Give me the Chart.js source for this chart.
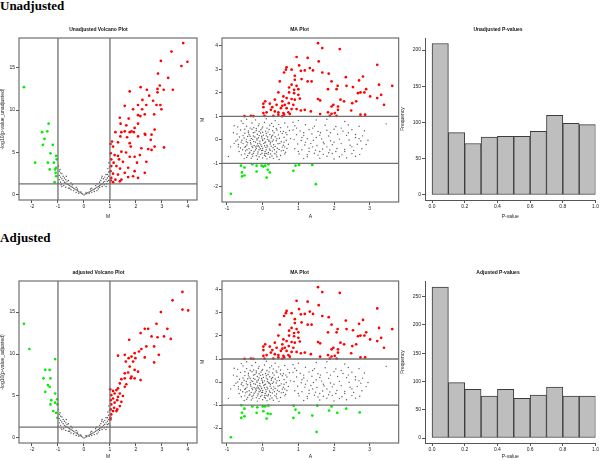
<!DOCTYPE html>
<html>
<head>
<meta charset="utf-8">
<script src="https://cdn.jsdelivr.net/npm/chart.js@4/dist/chart.umd.min.js"></script>
<style>
  body { margin: 0; background: #fff; width: 600px; height: 461px; position: relative; overflow: hidden; }
  .row-title { position: absolute; left: 0; font: bold 13px "Liberation Serif", "Times New Roman", serif; line-height: 13px; color: #000; }
  canvas { position: absolute; }
</style>
</head>
<body>
<div class="row-title" style="top:-1px">Unadjusted</div>
<div class="row-title" style="top:231px">Adjusted</div>
<canvas id="volTop" width="200" height="200" style="left:0;top:20px"></canvas>
<canvas id="maTop" width="200" height="200" style="left:200px;top:20px"></canvas>
<canvas id="histTop" width="200" height="200" style="left:400px;top:20px"></canvas>
<canvas id="volBot" width="200" height="210" style="left:0;top:250px"></canvas>
<canvas id="maBot" width="200" height="210" style="left:200px;top:250px"></canvas>
<canvas id="histBot" width="200" height="210" style="left:400px;top:250px"></canvas>
<script>
// ---- data ----
// volcano plots: [M, -log10(p)]
const volcanoUnadjRed = [
  [3.82,17.9],[3.37,16.9],[2.96,15.8],[3.98,15.7],[3.75,15.2],[2.85,14.3],[3.24,13.8],[2.18,12.7],
  [1.76,12.2],[2.42,12.4],[2.83,12.5],[2.92,12.9],[3.07,12.4],[3.42,12.4],[2.83,12.1],[2.51,11.7],
  [2.25,11.2],[2.66,11.1],[2.08,10.6],[2.40,10.6],[2.79,10.6],[2.94,10.6],[1.57,10.5],[1.89,10.1],
  [2.24,10.1],[2.98,10.1],[2.70,9.5],[2.08,9.4],[2.17,9.3],[1.38,9.1],[1.72,9.0],[2.34,9.5],
  [1.63,8.2],[1.95,7.9],[1.41,8.4],[2.08,8.4],[1.83,7.5],[1.76,7.4],[1.57,7.5],[1.44,7.4],
  [1.21,7.4],[1.92,7.4],[2.34,7.2],[2.60,7.1],[1.40,6.9],[2.08,6.9],[1.66,6.8],[2.36,7.1],
  [1.08,6.3],[1.31,6.2],[1.76,6.1],[2.21,5.5],[2.60,5.3],[2.72,5.7],[3.08,5.6],[2.47,5.4],
  [1.02,6.0],[1.12,5.7],[1.44,5.1],[1.62,5.0],[1.03,4.9],[1.18,4.7],[1.31,4.6],[1.95,4.5],
  [2.15,4.7],[1.76,4.5],[1.05,4.2],[1.14,3.8],[1.35,4.2],[1.50,3.9],[2.04,3.8],[2.40,3.9],
  [1.05,3.4],[1.25,3.4],[1.39,3.1],[1.70,3.2],[1.95,2.8],[1.02,2.8],[1.12,2.5],[1.31,2.4],
  [1.70,2.1],[1.89,2.2],[1.05,2.0],[1.21,1.8],[1.38,1.6],[1.12,1.5],[1.03,1.7],[2.08,2.0],
  [2.34,2.6],[1.57,2.6],[1.44,1.8],[1.80,5.7],[2.57,6.5],[2.72,7.7]
];
const volcanoUnadjGreen = [
  [-2.31,12.7],[-1.36,8.4],[-1.61,7.4],[-1.41,7.5],[-1.52,6.6],[-1.20,5.9],[-1.58,5.9],[-1.29,4.9],
  [-1.07,4.6],[-1.88,3.8],[-1.39,3.8],[-1.16,3.8],[-1.07,3.2],[-1.11,3.0],[-1.32,3.0],[-1.07,2.2],
  [-1.13,1.5],[-1.09,2.6],[-1.05,4.2]
];
const volcanoAdjRed = [
  [3.79,17.4],[3.41,16.4],[2.96,15.0],[3.79,15.3],[4.01,15.2],[2.34,13.0],[2.47,13.0],[2.79,13.6],
  [3.21,13.0],[2.18,12.5],[2.60,12.1],[3.08,12.1],[3.34,11.8],[2.83,12.0],[1.74,11.7],[2.70,10.9],
  [2.40,10.9],[2.21,10.6],[2.12,10.3],[1.95,10.1],[1.31,9.8],[1.57,9.9],[2.88,9.9],[1.83,9.7],
  [1.72,9.5],[1.98,9.5],[2.70,9.0],[2.34,9.6],[1.89,9.1],[1.61,9.1],[1.76,8.5],[1.95,8.1],
  [2.08,7.9],[1.57,7.7],[1.70,7.8],[1.83,7.3],[1.80,7.1],[1.57,7.1],[1.44,7.0],[1.95,7.1],
  [2.18,6.9],[1.38,6.5],[1.63,6.4],[1.57,6.1],[1.31,5.9],[1.01,5.8],[1.12,5.6],[1.25,5.7],
  [1.18,5.3],[1.38,5.3],[1.05,5.1],[1.50,5.0],[1.31,4.9],[1.12,4.7],[1.03,4.5],[1.28,4.5],
  [1.44,4.3],[1.18,4.2],[1.05,4.0],[1.38,3.8],[1.16,3.6],[1.28,3.4],[1.03,3.4],[1.12,3.2],
  [1.25,3.2],[1.05,2.8],[1.02,2.4],[1.02,2.2]
];
const volcanoAdjGreen = [
  [-2.31,13.6],[-2.10,10.6],[-1.11,9.4],[-1.49,8.1],[-1.32,8.1],[-1.56,7.1],[-1.29,7.1],[-1.39,6.3],
  [-1.32,6.1],[-1.49,5.5],[-1.11,5.3],[-1.26,4.5],[-1.03,4.6],[-1.11,4.2],[-1.29,4.0],[-1.02,4.0],
  [-1.18,3.2],[-1.07,3.0],[-1.02,2.4]
];
const volcanoGrey = [
  [0,0],[0.05,0.1],[-0.05,0.1],[0.1,0.15],[-0.1,0.2],[0.15,0.25],[-0.15,0.3],[0.2,0.35],[-0.2,0.4],
  [0.25,0.45],[-0.25,0.5],[0.3,0.5],[-0.3,0.6],[0.35,0.6],[-0.35,0.7],[0.4,0.7],[-0.4,0.8],[0.45,0.8],
  [-0.45,0.9],[0.5,0.9],[-0.5,1.0],[0.55,1.0],[-0.55,1.1],[0.6,1.1],[-0.6,1.2],[0.65,1.2],[-0.65,1.3],
  [0.7,1.3],[-0.7,1.4],[0.75,1.5],[-0.75,1.5],[0.8,1.6],[-0.8,1.7],[0.85,1.8],[-0.85,1.9],[0.9,2.0],
  [-0.9,2.1],[0.95,2.2],[-0.95,2.3],[-0.12,0.35],[0.08,0.3],[-0.3,0.3],[0.3,0.8],[-0.5,1.4],[0.5,1.3],
  [-0.6,0.8],[0.6,1.5],[-0.7,1.8],[0.7,1.0],[-0.8,2.2],[0.8,2.1],[-0.9,1.5],[0.9,1.6],[-0.95,2.8],
  [0.95,2.7],[-0.85,2.5],[0.85,2.4],[-0.75,2.0],[0.75,1.9],[-0.65,1.6],[0.65,1.7],[-0.55,0.8],
  [0.55,0.7],[-0.4,0.5],[0.4,0.4],[-0.2,0.2],[0.2,0.2],[-0.98,3.4],[0.98,3.3],[-1.0,1.4],[1.0,1.4],
  [-0.92,3.0],[0.92,3.1],[0.96,3.8],[-0.45,1.2],[0.45,1.1],[-0.25,0.7],[0.25,0.7],[-0.68,2.2],
  [0.68,2.0],[-0.88,1.2],[0.88,1.3],[-0.78,1.1],[0.78,1.2],[-0.3,0.9],[0.3,0.3],[-0.5,0.6],[0.5,0.5],
  [-0.7,0.9],[0.7,2.2],[-0.6,1.7],[0.6,0.9],[-0.85,1.0],[0.85,1.0],[-0.95,1.8],[0.95,1.7],[-0.9,2.6],
  [0.9,2.4]
];

// MA plots: [A, M]
const maRed = [
  [1.55,4.12],[1.67,3.91],[2.16,3.87],[0.95,3.53],[1.26,3.49],[1.57,3.34],[3.21,3.20],[1.02,3.17],
  [0.67,3.09],[1.32,3.06],[0.81,2.99],[0.65,2.99],[1.67,2.87],[1.85,2.82],[1.41,2.96],[1.07,2.94],
  [1.18,2.96],[0.60,2.87],[0.90,2.73],[0.48,2.49],[1.26,2.49],[1.37,2.49],[1.93,2.49],[2.33,2.67],
  [2.70,2.53],[2.81,2.70],[0.90,2.56],[1.09,2.59],[0.81,2.35],[0.95,2.30],[0.74,2.23],[0.88,2.13],
  [1.00,2.16],[1.83,2.16],[2.07,2.16],[2.10,2.30],[2.35,2.30],[2.53,2.25],[2.90,2.16],[3.26,2.35],
  [0.44,2.02],[0.74,2.02],[0.88,1.99],[1.00,1.92],[2.67,1.99],[2.74,2.02],[2.85,2.02],[3.32,1.92],
  [3.01,1.85],[3.21,1.78],[3.63,2.30],[0.58,1.85],[0.67,1.78],[0.81,1.74],[0.90,1.71],[1.04,1.76],
  [0.34,1.71],[1.55,1.74],[1.61,1.68],[2.18,1.71],[2.28,1.64],[2.51,1.56],[2.62,1.64],[3.40,1.49],
  [0.07,1.64],[0.02,1.54],[0.20,1.54],[0.39,1.49],[0.55,1.45],[0.62,1.49],[0.73,1.56],[0.86,1.49],
  [1.93,1.42],[1.98,1.49],[2.11,1.42],[0.55,1.64],[0.02,1.39],[0.27,1.39],[0.51,1.35],[0.67,1.35],
  [0.81,1.31],[0.95,1.31],[1.07,1.25],[1.18,1.28],[1.35,1.21],[2.11,1.28],[2.48,1.25],[0.23,1.28],
  [0.34,1.21],[0.44,1.17],[0.58,1.14],[0.72,1.17],[0.11,1.17],[0.02,1.14],[1.83,1.17],[1.93,1.11],
  [2.02,1.14],[1.61,1.10],[0.44,1.07],[0.60,1.07],[0.76,1.10],[-0.51,1.01],[-0.33,1.02],[-0.26,1.01],
  [0.05,1.02],[0.30,1.02],[0.55,1.01],[2.74,1.07],[2.87,1.07],[1.88,1.02],[2.07,1.02]
];
const maUnadjGreen = [
  [-0.89,-2.30],[-0.61,-1.10],[-0.51,-1.18],[-0.58,-1.39],[-0.58,-1.56],[-0.51,-1.52],[-0.29,-1.04],
  [-0.17,-1.10],[-0.17,-1.35],[-0.03,-1.10],[0.02,-1.14],[0.07,-1.10],[0.16,-1.04],[0.14,-1.28],
  [0.20,-1.39],[0.11,-1.61],[0.92,-1.10],[1.02,-1.07],[1.39,-1.07],[0.86,-1.32],[1.49,-1.89]
];
const maAdjGreen = [
  [-0.89,-2.40],[-0.60,-1.01],[-0.51,-1.16],[-0.58,-1.34],[-0.60,-1.56],[-0.51,-1.49],[-0.29,-1.06],
  [-0.15,-1.10],[-0.17,-1.34],[0.00,-1.06],[0.02,-1.27],[0.07,-1.06],[0.16,-1.03],[0.14,-1.37],
  [0.22,-1.39],[0.11,-1.59],[0.87,-1.03],[0.92,-1.20],[1.02,-1.34],[0.86,-1.56],[1.39,-1.46],
  [1.53,-1.03],[1.51,-2.17],[1.86,-1.24],[1.93,-1.06],[2.09,-1.34],[2.34,-1.16],[2.72,-1.32]
];
const maGrey = [
  [-0.45,0.88],[-0.2,0.85],[0.1,0.9],[0.35,0.82],[-0.6,0.8],
  [-0.55,0.7],[-0.3,0.72],[-0.1,0.68],[0.05,0.74],[0.25,0.7],[0.45,0.66],[0.62,0.72],
  [-0.7,0.55],[-0.45,0.58],[-0.25,0.52],[-0.12,0.6],[0.0,0.55],[0.12,0.5],[0.3,0.57],[0.5,0.52],[0.7,0.55],
  [-0.62,0.42],[-0.4,0.38],[-0.3,0.45],[-0.18,0.4],[-0.05,0.43],[0.08,0.37],[0.18,0.44],[0.28,0.39],
  [0.4,0.42],[0.58,0.36],[0.75,0.4],
  [-0.72,0.25],[-0.5,0.28],[-0.38,0.22],[-0.26,0.3],[-0.15,0.24],[-0.06,0.29],[0.02,0.2],[0.1,0.27],
  [0.2,0.23],[0.32,0.3],[0.44,0.21],[0.55,0.27],[0.68,0.22],
  [-0.65,0.12],[-0.52,0.08],[-0.42,0.14],[-0.32,0.06],[-0.22,0.12],[-0.12,0.09],[-0.03,0.15],[0.05,0.05],
  [0.14,0.12],[0.24,0.08],[0.35,0.13],[0.47,0.07],[0.6,0.11],[0.78,0.05],
  [-0.75,-0.05],[-0.58,-0.02],[-0.46,-0.08],[-0.35,-0.03],[-0.25,-0.07],[-0.16,-0.01],[-0.08,-0.06],
  [0.0,-0.03],[0.08,-0.09],[0.17,-0.02],[0.27,-0.06],[0.38,-0.04],[0.52,-0.08],[0.66,-0.02],
  [-0.68,-0.2],[-0.55,-0.16],[-0.44,-0.22],[-0.33,-0.18],[-0.24,-0.24],[-0.14,-0.17],[-0.05,-0.21],
  [0.03,-0.15],[0.12,-0.23],[0.21,-0.18],[0.31,-0.21],[0.43,-0.17],[0.58,-0.23],[0.72,-0.19],
  [-0.62,-0.35],[-0.5,-0.32],[-0.38,-0.38],[-0.28,-0.33],[-0.18,-0.36],[-0.09,-0.31],[0.0,-0.37],
  [0.09,-0.33],[0.19,-0.39],[0.29,-0.34],[0.41,-0.36],[0.55,-0.31],[0.68,-0.37],
  [-0.66,-0.5],[-0.48,-0.47],[-0.36,-0.53],[-0.24,-0.49],[-0.13,-0.52],[-0.03,-0.46],[0.07,-0.5],
  [0.16,-0.54],[0.27,-0.48],[0.39,-0.52],[0.52,-0.47],[0.64,-0.53],
  [-0.6,-0.64],[-0.42,-0.67],[-0.3,-0.62],[-0.18,-0.68],[-0.06,-0.63],[0.05,-0.66],[0.15,-0.61],
  [0.26,-0.69],[0.38,-0.64],[0.5,-0.67],[0.62,-0.6],
  [-0.52,-0.8],[-0.32,-0.78],[-0.15,-0.83],[0.0,-0.77],[0.12,-0.81],[0.3,-0.79],[0.46,-0.84],
  [-0.96,-0.71],[-0.9,-0.3],[0.85,0.75],[-0.8,0.6],
  [-0.35,0.15],[-0.28,0.02],[-0.2,-0.1],[-0.1,0.18],[-0.02,0.08],[0.06,-0.12],[0.13,0.02],[0.22,-0.1],
  [0.3,0.0],[-0.42,-0.12],[-0.3,-0.27],[-0.2,-0.3],[-0.12,-0.26],[-0.03,-0.28],[0.05,-0.25],[0.14,-0.3],
  [0.24,-0.27],[0.35,-0.28],[-0.48,-0.28],[-0.56,-0.42],[-0.44,-0.42],[-0.32,-0.45],[-0.2,-0.43],
  [-0.1,-0.42],[0.0,-0.45],[0.1,-0.42],[0.21,-0.45],[0.33,-0.42],[0.46,-0.41],[-0.38,-0.58],
  [-0.26,-0.57],[-0.14,-0.6],[-0.02,-0.57],[0.1,-0.58],[0.22,-0.6],[0.34,-0.58],[-0.5,-0.6],
  [-0.46,0.02],[-0.55,0.18],[-0.4,0.3],[-0.22,0.33],[-0.1,0.36],[0.0,0.32],[0.15,0.33],[0.25,0.15],
  [0.4,0.05],[0.48,-0.15],[0.6,-0.1],[0.62,-0.3],[0.58,-0.45],[-0.6,-0.1],[-0.68,-0.3],[-0.7,0.0],
  [-0.8,-0.15],[-0.82,0.3],[-0.35,0.5],[-0.18,0.48],[-0.02,0.5],[0.2,0.62],[0.38,0.48],[-0.5,0.45],
  [0.5,0.35],[0.65,0.3],[-0.28,-0.7],[-0.1,-0.72],[0.08,-0.7],[0.2,-0.74],[0.4,-0.72],[-0.45,-0.75],
  [-0.08,-0.15],[-0.16,0.05],[0.0,0.0],[0.1,0.17],[-0.26,0.16],[-0.34,-0.12],[0.18,-0.06],[0.28,0.2],
  [-0.06,-0.38],[-0.16,-0.26],[0.06,-0.58],
  [1.0,0.82],[1.5,0.85],[2.3,0.78],[1.8,0.88],
  [0.9,0.6],[1.2,0.64],[1.45,0.58],[1.75,0.62],[2.05,0.57],[2.4,0.63],[2.7,0.58],[3.46,0.68],
  [0.85,0.42],[1.05,0.38],[1.3,0.44],[1.55,0.36],[1.8,0.41],[2.0,0.45],[2.25,0.37],[2.5,0.43],[2.85,0.39],
  [0.95,0.22],[1.15,0.18],[1.38,0.25],[1.6,0.2],[1.85,0.16],[2.1,0.24],[2.35,0.19],[2.6,0.23],[2.8,0.17],
  [0.88,0.02],[1.08,-0.03],[1.25,0.05],[1.42,-0.02],[1.65,0.04],[1.9,-0.04],[2.15,0.03],[2.42,-0.01],
  [2.7,0.05],[2.95,-0.02],
  [0.98,-0.18],[1.18,-0.22],[1.35,-0.15],[1.52,-0.24],[1.72,-0.17],[1.95,-0.21],[2.2,-0.16],[2.45,-0.23],[2.65,-0.19],
  [0.9,-0.38],[1.1,-0.42],[1.3,-0.36],[1.48,-0.44],[1.68,-0.39],[1.88,-0.43],[2.08,-0.37],[2.3,-0.41],
  [2.55,-0.45],[2.78,-0.38],
  [1.02,-0.6],[1.25,-0.63],[1.45,-0.57],[1.7,-0.62],[1.95,-0.58],[2.22,-0.64],[2.5,-0.59],[2.72,-0.62],
  [1.15,-0.8],[1.6,-0.78],[2.0,-0.82],[2.35,-0.77],
  [1.2,-0.1],[1.4,-0.3],[1.6,-0.5],[1.8,-0.3],[2.0,-0.1],[1.5,0.1],[1.7,-0.1],[1.3,-0.5],[1.1,0.1],
  [2.3,-0.5],[2.5,-0.3],[2.6,0.1],[1.9,0.3],[2.2,0.5],[1.4,0.5],[1.0,-0.5],[1.25,-0.72],[1.8,-0.7],
  [2.15,-0.72],[2.6,-0.7],[2.9,-0.2],[1.62,0.3],[2.05,-0.5],[2.4,0.3],[1.15,0.3],[0.95,0.5],
  [1.85,-0.55],[1.55,-0.65],[2.75,-0.05]
];

// p-value histograms (10 bins of width 0.1)
const pBinCenters = [0.05, 0.15, 0.25, 0.35, 0.45, 0.55, 0.65, 0.75, 0.85, 0.95];
const pUnadjCounts = [209, 86, 71, 80, 81, 81, 88, 110, 99, 97];
const pAdjCounts = [267, 98, 86, 74, 86, 70, 76, 90, 74, 74];

// tick labels
const volcanoXTicks = [-2, -1, 0, 1, 2, 3, 4];
const volcanoYTicks = [0, 5, 10, 15];
const maXTicks = [-1, 0, 1, 2, 3];
const maYTicks = [-2, -1, 0, 1, 2, 3, 4];
const pXTicks = [0, 0.2, 0.4, 0.6, 0.8, 1.0];
const histTopYTicks = [0, 50, 100, 150, 200];
const histBotYTicks = [0, 50, 100, 150, 200, 250];

// ---- drawing ----
Chart.defaults.font.family = '"Liberation Sans", Arial, sans-serif';
Chart.defaults.font.size = 5;
Chart.defaults.color = '#222';
Chart.defaults.animation = false;

const toXY = arr => arr.map(([x, y]) => ({x, y}));

// cut lines and plot box, like abline() and box() in R
const cutLines = {
  id: 'cutLines',
  afterDatasetsDraw(chart, args, opts) {
    const {ctx, chartArea: a, scales} = chart;
    ctx.save();
    ctx.strokeStyle = '#707070';
    ctx.lineWidth = 1.3;
    (opts.v || []).forEach(v => {
      const p = scales.x.getPixelForValue(v);
      ctx.beginPath(); ctx.moveTo(p, a.top); ctx.lineTo(p, a.bottom); ctx.stroke();
    });
    (opts.h || []).forEach(h => {
      const p = scales.y.getPixelForValue(h);
      ctx.beginPath(); ctx.moveTo(a.left, p); ctx.lineTo(a.right, p); ctx.stroke();
    });
    if (opts.box) {
      ctx.lineWidth = 1.2;
      ctx.strokeRect(a.left, a.top, a.right - a.left, a.bottom - a.top);
    }
    ctx.restore();
  }
};

function axis(min, max, ticks, title, size, fmt, border) {
  return {
    type: 'linear', min, max, offset: false,
    afterBuildTicks: s => { s.ticks = ticks.map(v => ({value: v})); },
    afterFit: s => { if (s.isHorizontal()) s.height = size; else s.width = size; },
    grid: {drawOnChartArea: false, drawTicks: true, tickLength: 3, color: '#555', offset: false},
    border: {display: !!border, color: '#555'},
    ticks: {padding: 1, autoSkip: false, maxRotation: 0, font: {size: 5}, callback: fmt || (v => v)},
    title: {display: true, text: title, font: {size: 5}, padding: 0}
  };
}

function titleOpts(text, padTop) {
  return {display: true, text, font: {size: 5, weight: 'bold', lineHeight: '8px'}, color: '#111',
          padding: {top: padTop, bottom: 4}};
}

function pointSet(data, color, r) {
  return {data: toXY(data), backgroundColor: color, borderColor: color, borderWidth: 0,
          pointRadius: r, pointHoverRadius: r};
}

function volcano(id, title, padTop, xH, yMax, red, green, yLabel) {
  new Chart(document.getElementById(id), {
    type: 'scatter',
    data: {datasets: [
      pointSet(volcanoGrey, '#505050', 0.7),
      pointSet(red, '#ff0000', 1.35),
      pointSet(green, '#00ee00', 1.35)
    ]},
    options: {
      responsive: false,
      layout: {padding: {right: 3}},
      plugins: {legend: {display: false}, tooltip: {enabled: false},
                title: titleOpts(title, padTop),
                cutLines: {v: [-1, 1], h: [1.3], box: true}},
      scales: {
        x: axis(-2.5, 4.35, volcanoXTicks, 'M', xH),
        y: axis(-0.6, yMax, volcanoYTicks, yLabel, 19)
      }
    },
    plugins: [cutLines]
  });
}

function maPlot(id, padTop, xH, yMax, green) {
  new Chart(document.getElementById(id), {
    type: 'scatter',
    data: {datasets: [
      pointSet(maGrey, '#5a5a5a', 0.7),
      pointSet(maRed, '#ff0000', 1.35),
      pointSet(green, '#00ee00', 1.35)
    ]},
    options: {
      responsive: false,
      layout: {padding: {right: 1}},
      plugins: {legend: {display: false}, tooltip: {enabled: false},
                title: titleOpts('MA Plot', padTop),
                cutLines: {h: [1, -1], box: true}},
      scales: {
        x: axis(-1.14, 3.81, maXTicks, 'A', xH),
        y: axis(-2.65, yMax, maYTicks, 'M', 22)
      }
    },
    plugins: [cutLines]
  });
}

function histPlot(id, title, padTop, xH, counts, yMin, yMax, yTicks) {
  new Chart(document.getElementById(id), {
    type: 'bar',
    data: {datasets: [{
      data: pBinCenters.map((c, i) => ({x: c, y: counts[i]})),
      backgroundColor: '#bebebe', borderColor: '#3c3c3c', borderWidth: 1, borderSkipped: false,
      barPercentage: 1, categoryPercentage: 1
    }]},
    options: {
      responsive: false,
      layout: {padding: {right: 4}},
      plugins: {legend: {display: false}, tooltip: {enabled: false},
                title: titleOpts(title, padTop)},
      scales: {
        x: axis(-0.043, 1.0, pXTicks, 'P-value', xH, v => v.toFixed(1), true),
        y: axis(yMin, yMax, yTicks, 'Frequency', 25, null, true)
      }
    }
  });
}

volcano('volTop', 'Unadjusted Volcano Plot', 6, 20, 18.5, volcanoUnadjRed, volcanoUnadjGreen, '-log10(p-value_unadjusted)');
volcano('volBot', 'adjusted Volcano Plot', 19, 17, 18.7, volcanoAdjRed, volcanoAdjGreen, '-log10(p-value_adjusted)');
maPlot('maTop', 6, 18, 4.34, maUnadjGreen);
maPlot('maBot', 19, 17, 4.39, maAdjGreen);
histPlot('histTop', 'Unadjusted P-values', 6, 20, pUnadjCounts, -6.9, 216.6, histTopYTicks);
histPlot('histBot', 'Adjusted P-values', 19, 17, pAdjCounts, -8.8, 277.6, histBotYTicks);
</script>
</body>
</html>
